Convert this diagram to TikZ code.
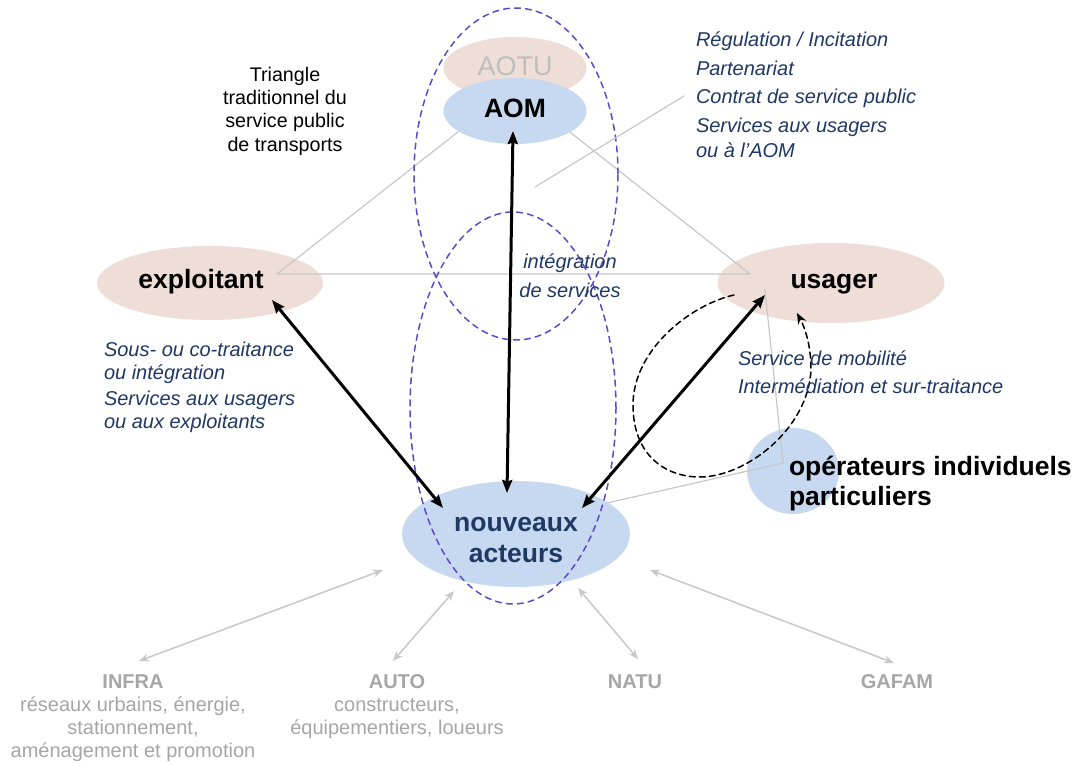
\documentclass[tikz,border=0pt]{standalone}
\usepackage{fontspec}
\setmainfont{Liberation Sans}
\usetikzlibrary{shapes.geometric,arrows.meta,calc}

\definecolor{pinkfill}{RGB}{238,222,215}
\definecolor{bluefill}{RGB}{198,217,240}
\definecolor{navy}{RGB}{31,56,100}
\definecolor{zoneviolet}{RGB}{92,74,206}
\definecolor{lightgrey}{RGB}{200,200,200}
\definecolor{labelgrey}{RGB}{166,166,166}
\definecolor{aotugrey}{RGB}{190,190,190}

\begin{document}
\begin{tikzpicture}[x=1pt, y=-1pt, line cap=round, line join=round,
    every node/.style={inner sep=0pt, outer sep=0pt},
    pinkell/.style={ellipse, fill=pinkfill},
    blueell/.style={ellipse, fill=bluefill},
    bigbold/.style={font=\fontsize{26.5}{31}\selectfont\bfseries},
    bluetxt/.style={text=navy, align=left},
    greytxt/.style={text=labelgrey, font=\fontsize{20}{23}\selectfont, align=center, anchor=north},
    triline/.style={draw=lightgrey, line width=1.2pt},
    zone/.style={draw=zoneviolet, line width=1.5pt, dash pattern=on 6pt off 5pt},
    biarrow/.style={{Stealth[length=13pt,width=10pt,inset=1.5pt]}-{Stealth[length=13pt,width=10pt,inset=1.5pt]}, line width=3pt},
    greyarrow/.style={{Stealth[length=10pt,width=8pt]}-{Stealth[length=10pt,width=8pt]}, draw=lightgrey, line width=1.5pt}]

    \fill[white] (0,0) rectangle (1080,767);
    \useasboundingbox (0,0) rectangle (1080,767);

    % the actors
    \node[pinkell, minimum width=226pt, minimum height=74pt] (exploitant) at (210,283) {};
    \node[pinkell, minimum width=227pt, minimum height=80pt] (usager) at (831,283) {};
    \node[pinkell, minimum width=143pt, minimum height=62pt] (aotu) at (515,68) {};
    \node[blueell, minimum width=228pt, minimum height=106pt] (nouveaux) at (516,534) {};
    \node[blueell, minimum width=92pt, minimum height=86pt] (operateurs) at (793,471) {};

    % triangle traditionnel
    \coordinate (tri-l) at ($(exploitant)+(67,-9)$);
    \coordinate (tri-r) at ($(usager)+(-81,-9)$);
    \coordinate (tri-t) at (514,88);
    \draw[triline] (tri-l) -- (tri-t) -- (tri-r) -- cycle;

    \node[blueell, minimum width=143pt, minimum height=66pt] (aom) at (515,111) {};

    % zones
    \draw[zone] (516,174) ellipse [x radius=102pt, y radius=166pt];
    \draw[zone] (513,408) ellipse [x radius=103pt, y radius=196pt];

    \coordinate (tri-mark) at (535,187);
    \coordinate (tri-note) at (684,96);
    \draw[triline] (tri-mark) -- (tri-note);
    \draw[triline] ($(usager)+(-66,7)$) -- ($(operateurs)+(-10,-8)$) -- ($(nouveaux)+(91,-31)$);

    \draw[biarrow] ($(aom)+(-2,20)$) -- ($(nouveaux)+(-9,-41)$);
    \draw[biarrow] ($(exploitant)+(62,17)$) -- ($(nouveaux)+(-73,-26)$);
    \draw[biarrow] ($(usager)+(-66,12)$) -- ($(nouveaux)+(66,-26)$);

    \draw[line width=1.5pt, dash pattern=on 6pt off 4pt, -{Stealth[length=11pt,width=9pt]}]
        ($(usager)+(-97,12)$) .. controls (690,305) and (633,350) .. (633,405)
        .. controls (633,455) and (665,477) .. (700,477)
        .. controls (745,477) and (808,430) .. (811,370)
        .. controls (811,345) and (805,328) .. ($(usager)+(-34,30)$);

    % bottom
    \node[greytxt] (infra) at (133,672) {\strut\textbf{INFRA}\\réseaux urbains, énergie,\\stationnement,\\aménagement et promotion};
    \node[greytxt] (auto) at (397,672) {\strut\textbf{AUTO}\\constructeurs,\\équipementiers, loueurs};
    \node[greytxt] (natu) at (635,672) {\strut\textbf{NATU}};
    \node[greytxt] (gafam) at (897,672) {\strut\textbf{GAFAM}};
    \draw[greyarrow] ($(nouveaux)+(-133,36)$) -- ($(infra.north)+(6,-11)$);
    \draw[greyarrow] ($(nouveaux)+(-62,57)$) -- ($(auto.north)+(-4,-11)$);
    \draw[greyarrow] ($(nouveaux)+(62,54)$) -- ($(natu.north)+(3,-13)$);
    \draw[greyarrow] ($(nouveaux)+(134,36)$) -- ($(gafam.north)+(-3,-9)$);

    % labels
    \node[text=aotugrey, font=\fontsize{27}{31}\selectfont, anchor=base] (aotu-lbl) at (515,76) {AOTU};
    \node[bigbold, anchor=base] (aom-lbl) at (515,118) {AOM};
    \node[bigbold, anchor=base] (exploitant-lbl) at (201,289) {exploitant};
    \node[bigbold, anchor=base] (usager-lbl) at (834,289) {usager};
    \node[bigbold, text=navy, align=center, anchor=north] (nouveaux-lbl) at (516,510) {\strut nouveaux\\acteurs};
    \node[bigbold, font=\fontsize{26.5}{30}\selectfont\bfseries, align=left, anchor=north west] (operateurs-lbl) at (789,454) {\strut opérateurs individuels\\particuliers};

    \node[font=\fontsize{19.7}{23.3}\selectfont, align=center, anchor=north] (triangle-lbl) at (285,65) {\strut Triangle\\traditionnel du\\service public\\de transports};

    \node[bluetxt, font=\fontsize{20}{25}\selectfont\itshape, anchor=north west] (aom-roles) at (696,29.5)
        {\strut Régulation / Incitation\\[3.5pt]Partenariat\\[3.5pt]Contrat de service public\\[3.5pt]Services aux usagers\\ou à l’AOM};
    \node[bluetxt, font=\fontsize{20}{23}\selectfont\itshape, anchor=north west] (exploitant-roles) at (104,340)
        {\strut Sous- ou co-traitance\\ou intégration\\[3pt]Services aux usagers\\ou aux exploitants};
    \node[bluetxt, font=\fontsize{20}{24}\selectfont\itshape, align=center, anchor=north] (integration) at (570,252)
        {\strut intégration\\[5pt]de services};
    \node[bluetxt, font=\fontsize{20}{28}\selectfont\itshape, anchor=north west] (usager-roles) at (738,345.5)
        {\strut Service de mobilité\\Intermédiation et sur-traitance};
\end{tikzpicture}
\end{document}
